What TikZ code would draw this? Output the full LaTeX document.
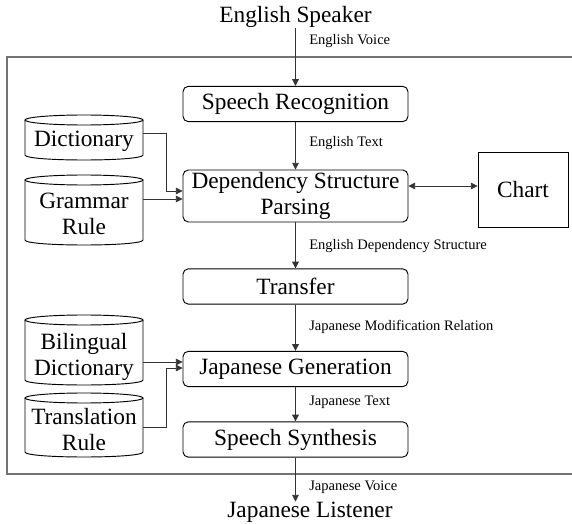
\documentclass[tikz,border=0pt]{standalone}
\usepackage{fontspec}
\setmainfont{Liberation Serif}
\usetikzlibrary{arrows.meta}

\newcommand{\boxfont}{\fontsize{17.5}{19.5}\selectfont}
\newcommand{\tagfont}{\fontsize{10.9}{13}\selectfont}
% can: left x, top y, bottom y (centres of the end ellipses)
\newcommand{\storecan}[3]{%
  \draw[canline] (#1+59,#2) ellipse (59 and 5);
  \draw[canline] (#1,#2) -- (#1,#3) .. controls (#1,#3+6.67) and (#1+118,#3+6.67) .. (#1+118,#3) -- (#1+118,#2);
}

\tikzset{
  procbox/.style={draw, line width=0.7pt, rounded corners=4pt, minimum width=168.75pt, minimum height=26.5pt, inner sep=1pt, align=center, font=\boxfont},
  chartbox/.style={draw, line width=0.7pt, minimum width=67.5pt, minimum height=56.25pt, font=\boxfont},
  cantext/.style={minimum width=88.5pt, inner sep=0pt, align=center, font=\boxfont},
  canline/.style={line width=0.7pt},
  endtext/.style={inner sep=0pt, font=\boxfont},
  flowlabel/.style={anchor=west, inner sep=0pt, font=\tagfont},
  flow/.style={draw=black!80, line width=0.6pt, -{Triangle[length=5pt,width=5pt]}},
  frameline/.style={draw=black!55, line width=0.9pt}
}

\begin{document}
\begin{tikzpicture}[x=0.75pt,y=0.75pt,yscale=-1,xscale=1]
\useasboundingbox (0,0) rectangle (572,524);

%Shape: Frame
\draw[frameline] (580,57) -- (7,57) -- (7,474) -- (580,474);

%Outside
\node[endtext] (speaker) at (295.5,17) {English Speaker};
\node[endtext] (listener) at (310,512) {Japanese Listener};

%Process boxes
\node[procbox] (recog) at (295.5,104) {Speech Recognition};
\node[procbox, minimum height=39pt] (parse) at (295.5,196) {Dependency Structure\\Parsing};
\node[procbox] (transfer) at (295.5,286.5) {Transfer};
\node[procbox] (jgen) at (295.5,369) {Japanese Generation};
\node[procbox] (synth) at (295.5,439.5) {Speech Synthesis};
\node[chartbox] (chart) at (523,189.5) {Chart};

%Shape: Cans
\storecan{25}{120}{155}
\storecan{25}{180}{240}
\storecan{25}{320}{380}
\storecan{25}{398}{452}
\node[cantext] (dict) at (84,141) {Dictionary};
\node[cantext] (grammar) at (84,213.5) {Grammar\\Rule};
\node[cantext] (bidict) at (84,356.5) {Bilingual\\Dictionary};
\node[cantext] (trule) at (84,430) {Translation\\Rule};

%Main flow
\draw[flow] (speaker.south) -- (recog.north);
\draw[flow] (recog.south) -- (parse.north);
\draw[flow] (parse.south) -- (transfer.north);
\draw[flow] (transfer.south) -- (jgen.north);
\draw[flow] (jgen.south) -- (synth.north);
\draw[flow] (synth.south) -- (synth.south |- listener.north);
\draw[flow, {Triangle[length=5pt,width=5pt]}-{Triangle[length=5pt,width=5pt]}] (parse.east |- 0,186) -- (chart.west |- 0,186);

%Knowledge feeds
\draw[flow] (dict.east |- 0,133) -- (166,133) |- (parse.west |- 0,191);
\draw[flow] (grammar.east |- 0,199) -- (parse.west |- 0,199);
\draw[flow] (bidict.east |- 0,362) -- (jgen.west |- 0,362);
\draw[flow] (trule.east |- 0,427) -- (166,427) |- (jgen.west |- 0,368);

%Labels
\node[flowlabel] (lvoice) at (309,41) {English Voice};
\node[flowlabel] (ltext) at (309,143) {English Text};
\node[flowlabel] (ldep) at (309,246) {English Dependency Structure};
\node[flowlabel] (lmod) at (309,327) {Japanese Modification Relation};
\node[flowlabel] (ljtext) at (309,402) {Japanese Text};
\node[flowlabel] (ljvoice) at (309,487) {Japanese Voice};

\end{tikzpicture}
\end{document}
